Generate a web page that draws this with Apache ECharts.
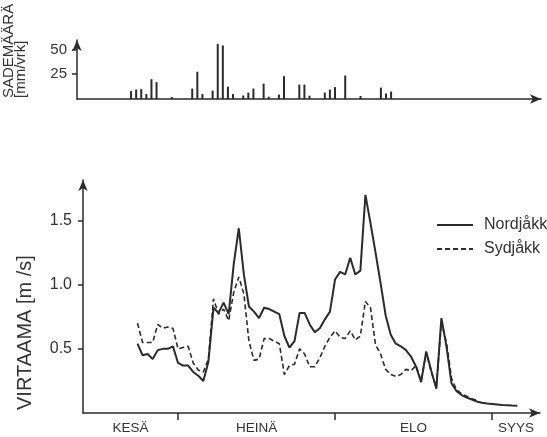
<!DOCTYPE html>
<html>
<head>
<meta charset="utf-8">
<script src="https://cdn.jsdelivr.net/npm/echarts@6/dist/echarts.min.js"></script>
<style>
html,body{margin:0;padding:0;background:#fff;}
#chart{width:547px;height:437px;}
</style>
</head>
<body>
<div id="chart"></div>
<script>
// days counted from 1 July (= 0)
var rainDay = [-9,-8,-7,-6,-5,-4,-1,3,4,5,7,8,9,10,11,13,14,15,17,18,20,21,24,25,26,29,30,31,33,36,40,41,42];
var rainMm = [8,9.5,10,5,20,17,2,10.5,27.5,5,8.5,55.5,54,12.5,5,3.5,6.5,10.5,15.5,2.3,4.5,23,14.5,14.5,3.3,6.5,9.5,12,23.7,3,11.5,5.5,7.5];

var nordFirstDay = -8;
var nord = [0.54,0.45,0.46,0.42,0.49,0.50,0.50,0.52,
    0.39,0.37,0.37,0.32,0.29,0.25,0.40,0.82,0.78,0.86,
    0.77,1.16,1.44,1.08,0.83,0.79,0.74,0.82,0.81,0.79,
    0.77,0.60,0.51,0.56,0.78,0.78,0.69,0.63,0.66,0.73,
    0.79,1.04,1.10,1.08,1.21,1.08,1.11,1.70,1.48,1.25,
    1.01,0.76,0.61,0.54,0.52,0.49,0.44,0.36,0.24,0.48,
    0.33,0.19,0.74,0.52,0.23,0.17,0.14,0.12,0.105,0.09,
    0.08,0.074,0.07,0.066,0.062,0.06,0.058,0.057];

var sydFirstDay = -8;
var syd = [0.70,0.55,0.55,0.55,0.69,0.66,0.67,0.66,
    0.50,0.51,0.52,0.39,0.335,0.32,0.42,0.89,0.77,0.81,
    0.72,0.94,1.06,0.93,0.56,0.41,0.42,0.58,0.58,0.56,
    0.54,0.30,0.37,0.38,0.50,0.46,0.36,0.36,0.43,0.52,
    0.59,0.64,0.59,0.58,0.64,0.57,0.60,0.87,0.82,0.53,
    0.46,0.34,0.30,0.285,0.30,0.34,0.33,0.37,0.25,0.47,
    0.32,0.20,0.71,0.55,0.27,0.18,0.15,0.13,0.11,0.10];

var months = ['KESÄ','HEINÄ','ELO','SYYS'];
var monthStarts = [0,31,62];
var flowTicks = [0.5,1.0,1.5];
var rainTicks = [25,50];

var ink = '#2b2b2b';
var font = "'Liberation Sans', Arial, sans-serif";

var xMin = -18.76, xMax = 71.47;
var topMin = -19.6, topMax = 71.4;

function pairs(first, vals){
    var out = [];
    for(var i=0;i<vals.length;i++){
        out.push([first+i, vals[i]]);
    }
    return out;
}

var bounds = [xMin].concat(monthStarts).concat([xMax]);
var monthMids = [];
for(var i=0;i<months.length;i++){
    monthMids.push((bounds[i]+bounds[i+1])/2);
}

var rainData = [];
for(var i=0;i<rainDay.length;i++){
    rainData.push([rainDay[i], rainMm[i]]);
}

function axisLine(){
    return {
        onZero: false,
        lineStyle: {color: ink, width: 1.5},
        symbol: ['none','arrow'],
        symbolSize: [7, 11]
    };
}

var mychart = echarts.init(document.getElementById('chart'));
var option = {
    animation: false,
    backgroundColor: '#fff',
    textStyle: {fontFamily: font},
    grid: [
        {left: 77, right: 6, top: 40, height: 59},
        {left: 83, right: 7, top: 180, bottom: 24}
    ],
    legend: {
        orient: 'vertical',
        left: 431,
        top: 212,
        itemWidth: 36,
        itemHeight: 14,
        itemGap: 8,
        itemStyle: {opacity: 0},
        data: ['Nordjåkk','Sydjåkk'],
        textStyle: {fontSize: 16, color: '#333', fontFamily: font, padding: [0,0,0,6]}
    },
    xAxis: [
        {
            gridIndex: 0, type: 'value', min: topMin, max: topMax,
            axisLine: axisLine(),
            axisTick: {show: false},
            axisLabel: {show: false},
            splitLine: {show: false}
        },
        {
            gridIndex: 1, type: 'value', min: xMin, max: xMax,
            axisLine: axisLine(),
            axisTick: {show: true, length: 7, customValues: monthStarts, lineStyle: {color: ink, width: 1.5}},
            axisLabel: {
                show: true, margin: 8, fontSize: 13.5, color: '#333', fontFamily: font,
                customValues: monthMids,
                formatter: function(v){
                    for(var i=0;i<monthMids.length;i++){
                        if(Math.abs(monthMids[i]-v) < 0.01) return months[i];
                    }
                    return '';
                }
            },
            splitLine: {show: false}
        }
    ],
    yAxis: [
        {
            gridIndex: 0, type: 'value', min: 0, max: 59.5,
            axisLine: axisLine(),
            axisTick: {show: true, length: 5, customValues: rainTicks, lineStyle: {color: ink, width: 1.5}},
            axisLabel: {margin: 10, fontSize: 15, color: '#333', fontFamily: font, customValues: rainTicks},
            splitLine: {show: false}
        },
        {
            gridIndex: 1, type: 'value', min: 0, max: 1.816,
            axisLine: axisLine(),
            axisTick: {show: true, length: 5, customValues: flowTicks, lineStyle: {color: ink, width: 1.5}},
            axisLabel: {
                margin: 11, fontSize: 16, color: '#333', fontFamily: font, customValues: flowTicks,
                formatter: function(v){ return v.toFixed(1); }
            },
            splitLine: {show: false}
        }
    ],
    graphic: [
        {type: 'text', x: 16, y: 98, rotation: Math.PI/2,
            style: {text: 'SADEMÄÄRÄ', font: '15px ' + font, fill: '#333', align: 'left', verticalAlign: 'bottom'}},
        {type: 'text', x: 28, y: 98, rotation: Math.PI/2,
            style: {text: '[mm/vrk]', font: '15px ' + font, fill: '#333', align: 'left', verticalAlign: 'bottom'}},
        {type: 'text', x: 35, y: 410, rotation: Math.PI/2,
            style: {text: 'VIRTAAMA [m /s]', font: '20px ' + font, fill: '#333', align: 'left', verticalAlign: 'bottom'}}
    ],
    series: [
        {
            name: 'rain', type: 'bar', xAxisIndex: 0, yAxisIndex: 0,
            barWidth: 2, itemStyle: {color: ink},
            data: rainData
        },
        {
            name: 'Nordjåkk', type: 'line', xAxisIndex: 1, yAxisIndex: 1,
            symbol: 'none',
            lineStyle: {color: ink, width: 2},
            itemStyle: {color: ink},
            data: pairs(nordFirstDay, nord)
        },
        {
            name: 'Sydjåkk', type: 'line', xAxisIndex: 1, yAxisIndex: 1,
            symbol: 'none',
            lineStyle: {color: ink, width: 1.6, type: [5,3]},
            itemStyle: {color: ink},
            data: pairs(sydFirstDay, syd)
        }
    ]
};
mychart.setOption(option);
</script>
</body>
</html>
